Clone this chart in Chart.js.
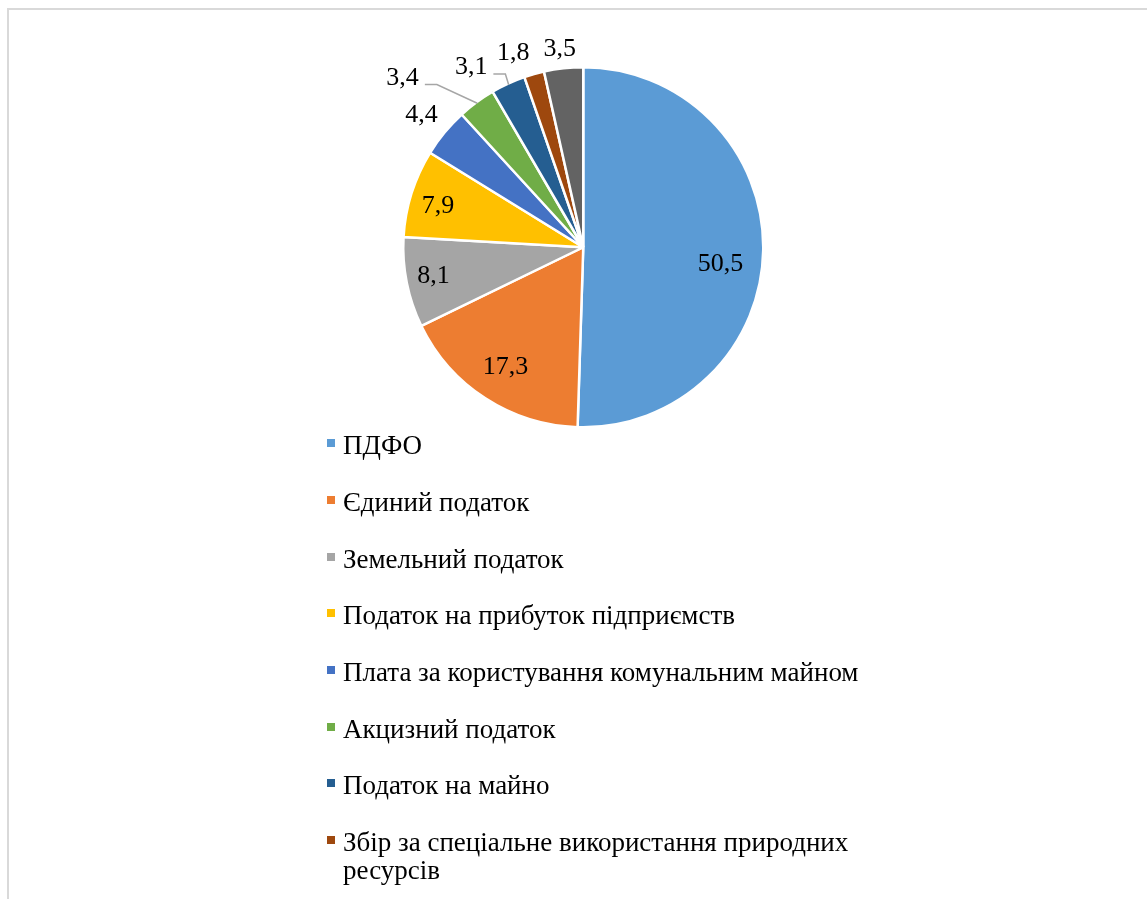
<!DOCTYPE html>
<html lang="uk">
<head>
<meta charset="utf-8">
<script src="https://cdn.jsdelivr.net/npm/chart.js@4.4.1/dist/chart.umd.min.js"></script>
<style>
  html, body { margin: 0; padding: 0; background: #fff; width: 1147px; height: 899px; overflow: hidden; }
  #frame { position: absolute; left: 7px; top: 8px; width: 1200px; height: 1000px; border: 2px solid #d9d9d9; box-sizing: border-box; }
  #myChart { position: absolute; left: 0; top: 0; }
  #legend { position: absolute; left: 327px; top: 431.3px; font-family: "Liberation Serif", "Times New Roman", serif; font-size: 27px; color: #000; }
  .item { position: relative; padding-left: 16px; width: 540px; line-height: 28px; margin-bottom: 28.7px; }
  .item .box { position: absolute; left: 0; top: 8px; width: 8px; height: 8px; }
</style>
</head>
<body>
<div id="frame"></div>
<canvas id="myChart" width="1147" height="440"></canvas>
<div id="legend"></div>
<script>
// Дані діаграми (частка у %)
const categories = [
    'ПДФО',
    'Єдиний податок',
    'Земельний податок',
    'Податок на прибуток підприємств',
    'Плата за користування комунальним майном',
    'Акцизний податок',
    'Податок на майно',
    'Збір за спеціальне використання природних ресурсів',
    'Інші'
];
const values = [50.5, 17.3, 8.1, 7.9, 4.4, 3.4, 3.1, 1.8, 3.5];
const colors = ['#5B9BD5', '#ED7D31', '#A5A5A5', '#FFC000', '#4472C4', '#70AD47', '#255E91', '#9E480E', '#636363'];

// Розміщення підписів: частка радіуса, зсув кута (градуси), лінія-виноска
const labelRadius = [0.773, 0.80, 0.853, 0.845, 1.17, 1.385, 1.185, 1.152, 1.114];
const labelShift = [6.0, 0, 0.5, -1.5, -0.3, -10.5, -7.3, -4.0, -0.5];
const labelLeader = [false, false, false, false, false, true, true, false, false];

const BORDER = 2.5;

const sliceLabels = {
    id: 'sliceLabels',
    afterDatasetsDraw(chart) {
        const ctx = chart.ctx;
        const meta = chart.getDatasetMeta(0);
        ctx.save();
        ctx.font = '26px "Liberation Serif"';
        ctx.textAlign = 'center';
        ctx.textBaseline = 'middle';
        meta.data.forEach((arc, i) => {
            const p = arc.getProps(['x', 'y', 'startAngle', 'endAngle', 'outerRadius'], true);
            const R = p.outerRadius - BORDER / 2;
            const mid = (p.startAngle + p.endAngle) / 2;
            const a = mid + labelShift[i] * Math.PI / 180;
            const lx = p.x + Math.cos(a) * R * labelRadius[i];
            const ly = p.y + Math.sin(a) * R * labelRadius[i];
            const txt = values[i].toFixed(1).replace('.', ',');
            if (labelLeader[i]) {
                const w = ctx.measureText(txt).width;
                const sx = lx + w / 2 + 6, sy = ly + 6.5;
                ctx.beginPath();
                ctx.moveTo(sx, sy);
                ctx.lineTo(sx + 12, sy);
                ctx.lineTo(p.x + Math.cos(mid) * R, p.y + Math.sin(mid) * R);
                ctx.strokeStyle = '#a6a6a6';
                ctx.lineWidth = 1.5;
                ctx.stroke();
            }
            ctx.fillStyle = '#000';
            ctx.fillText(txt, lx, ly);
        });
        ctx.restore();
    }
};

var ctx = document.getElementById('myChart').getContext('2d');
var chart = new Chart(ctx, {
    type: 'pie',
    data: {
        labels: categories,
        datasets: [{
            data: values,
            backgroundColor: colors,
            borderColor: '#ffffff',
            borderWidth: BORDER
        }]
    },
    options: {
        responsive: false,
        animation: false,
        layout: {
            padding: { left: 402, right: 382.5, top: 66, bottom: 11.5 }
        },
        plugins: {
            legend: { display: false },
            tooltip: { enabled: false }
        }
    },
    plugins: [sliceLabels]
});

// Легенда
const legend = document.getElementById('legend');
categories.forEach((name, i) => {
    const item = document.createElement('div');
    item.className = 'item';
    const box = document.createElement('span');
    box.className = 'box';
    box.style.background = colors[i];
    item.appendChild(box);
    item.appendChild(document.createTextNode(name));
    legend.appendChild(item);
});
</script>
</body>
</html>
